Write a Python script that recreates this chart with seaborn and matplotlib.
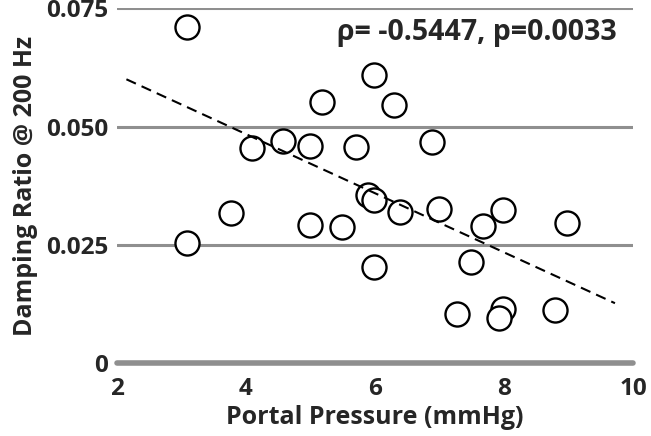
import matplotlib
matplotlib.use("Agg")
import matplotlib.pyplot as plt
import pandas as pd
import seaborn as sns

# values
portal_pressure = [3.09, 3.09, 3.77, 4.09, 4.57, 5.00, 4.99, 5.18, 5.49, 5.70,
                   5.90, 5.98, 5.98, 6.29, 5.98, 6.39, 6.89, 6.99, 7.68, 7.98,
                   8.98, 7.49, 7.28, 7.98, 7.93, 8.79]
damping_ratio = [0.0711, 0.0254, 0.0318, 0.0454, 0.0470, 0.0460, 0.0292, 0.0553, 0.0288, 0.0458,
                 0.0356, 0.0345, 0.0609, 0.0546, 0.0203, 0.0320, 0.0468, 0.0326, 0.0291, 0.0324,
                 0.0296, 0.0213, 0.0104, 0.0115, 0.0095, 0.0113]
trend_x = [2.15, 9.72]
trend_y = [0.0600, 0.0127]
y_ticks = [0, 0.025, 0.050, 0.075]
y_labels = ["0", "0.025", "0.050", "0.075"]
x_ticks = [2, 4, 6, 8, 10]
stats_text = "\u03c1= -0.5447, p=0.0033"

data = pd.DataFrame({"pressure": portal_pressure, "damping": damping_ratio})
trend = pd.DataFrame({"x": trend_x, "y": trend_y})

sns.set_style("white")
plt.rcParams["font.family"] = ["Open Sans", "DejaVu Sans"]
plt.rcParams["font.weight"] = "bold"

fig = plt.figure(figsize=(6.51, 4.36), dpi=100)
ax = fig.add_axes([0.1793, 0.1667, 0.7931, 0.8143])

sns.scatterplot(data=data, x="pressure", y="damping", s=300, color="white",
                edgecolor="black", linewidth=1.7, ax=ax, zorder=3, clip_on=False)
sns.lineplot(data=trend, x="x", y="y", color="black", lw=1.5, ax=ax, zorder=4)
ax.lines[-1].set_dashes([5, 3])

ax.set_xlim(2, 10)
ax.set_ylim(0, 0.075)
ax.set_xticks(x_ticks)
ax.set_yticks(y_ticks)
ax.set_yticklabels(y_labels)
ax.tick_params(axis="both", length=0, labelsize=17.5)
ax.tick_params(axis="y", pad=6)
ax.tick_params(axis="x", pad=10)

ax.yaxis.grid(True, color="#8f8f8f", lw=2.2)
ax.set_axisbelow(True)
ax.axhline(0, color="#8f8f8f", lw=4, solid_capstyle="round", zorder=1, clip_on=False)
sns.despine(ax=ax, left=True, bottom=True)

ax.set_xlabel("Portal Pressure (mmHg)", fontsize=18, fontweight="bold", labelpad=3)
ax.set_ylabel("Damping Ratio @ 200 Hz", fontsize=18, fontweight="bold", labelpad=6)
ax.text(0.969, 0.933, stats_text, transform=ax.transAxes, ha="right", va="center",
        fontsize=20.5, fontweight="bold")

fig.savefig("out.png", dpi=100)
